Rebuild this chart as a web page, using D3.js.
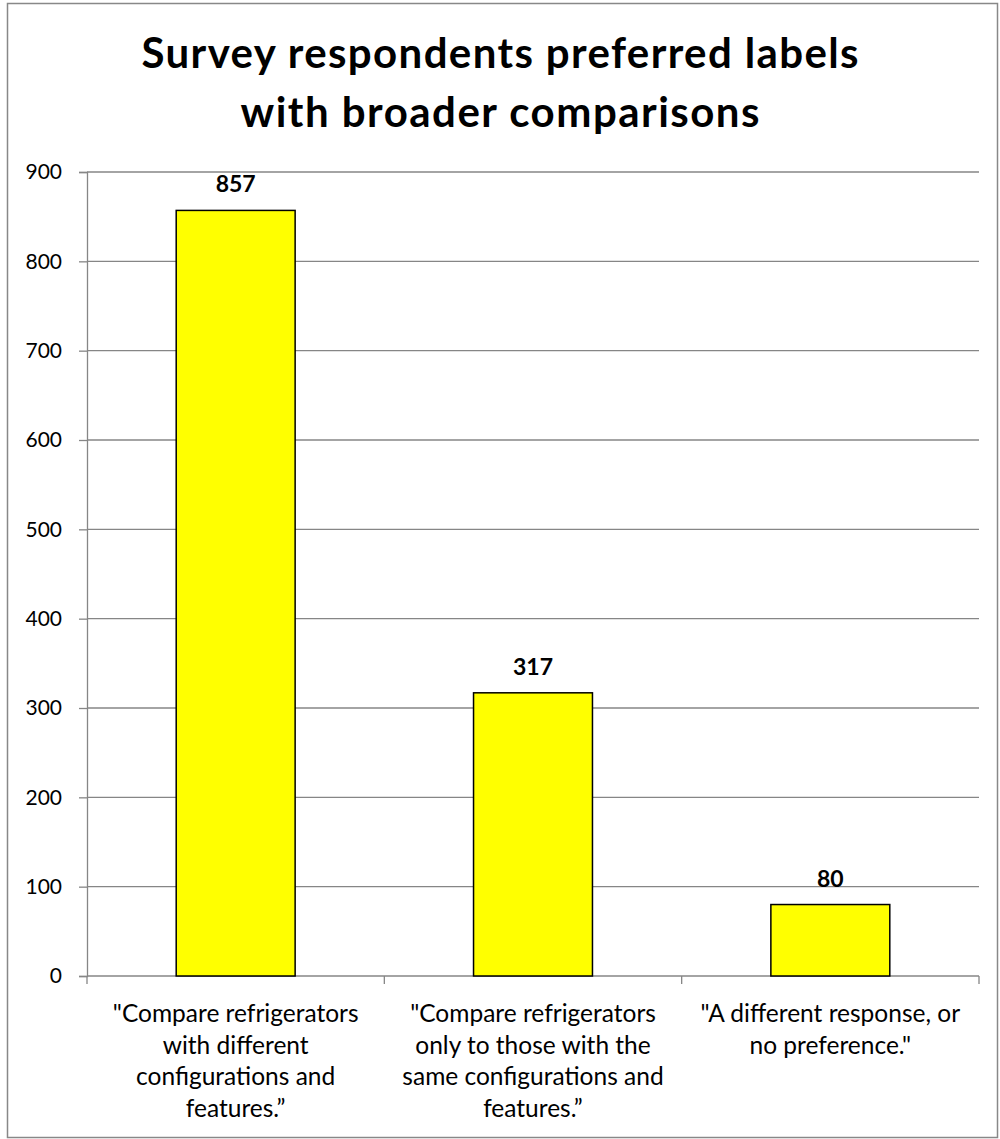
<!DOCTYPE html>
<html><head><meta charset="utf-8">
<script src="https://cdn.jsdelivr.net/npm/d3@7"></script>
<style>body{margin:0;background:#fff}svg{display:block}text{font-family:Lato,"Open Sans",sans-serif}</style>
</head><body>
<svg id="c" width="1000" height="1139"></svg>
<script>
const categories = [
  ['"Compare refrigerators','with different','configurations and','features.\u201D'],
  ['"Compare refrigerators','only to those with the','same configurations and','features.\u201D'],
  ['"A different response, or','no preference."']
];
const values = [857, 317, 80];
const yTicks = [0,100,200,300,400,500,600,700,800,900];
const titleLines = ['Survey respondents preferred labels','with broader comparisons'];

const svg = d3.select('#c');
svg.append('rect').attr('x',7.5).attr('y',3.5).attr('width',990).attr('height',1134)
  .attr('fill','#fff').attr('stroke','#888').attr('stroke-width',1.5);

const m = {l:87, r:979, t:172, b:976};
const x = d3.scaleBand().domain(d3.range(values.length)).range([m.l,m.r]).paddingInner(0.6).paddingOuter(0.3);
const xb = d3.scaleBand().domain(d3.range(values.length)).range([m.l,m.r]);
const y = d3.scaleLinear().domain([0,900]).range([m.b,m.t]);

// gridlines
svg.append('g').selectAll('line').data(yTicks.filter(d=>d>0)).join('line')
  .attr('x1',m.l).attr('x2',m.r).attr('y1',d=>y(d)).attr('y2',d=>y(d))
  .attr('stroke','#868686').attr('stroke-width',1.3);

// y axis
const ya = svg.append('g').attr('transform',`translate(${m.l},0)`)
  .call(d3.axisLeft(y).tickValues(yTicks).tickSize(8).tickPadding(17));
ya.select('.domain').attr('stroke','#868686').attr('stroke-width',1.3);
ya.selectAll('.tick line').attr('stroke','#868686').attr('stroke-width',1.3);
ya.selectAll('.tick text').attr('font-size',21).attr('fill','#000').style('font-family','Lato,sans-serif');

// x axis
svg.append('line').attr('x1',m.l).attr('x2',m.r).attr('y1',m.b).attr('y2',m.b).attr('stroke','#868686').attr('stroke-width',1.3);
svg.append('g').selectAll('line').data(d3.range(values.length+1)).join('line')
  .attr('x1',i=>i<values.length?xb(i):m.r).attr('x2',i=>i<values.length?xb(i):m.r)
  .attr('y1',m.b).attr('y2',m.b+8).attr('stroke','#868686').attr('stroke-width',1.3);

// bars
svg.append('g').selectAll('rect').data(values).join('rect')
  .attr('x',(d,i)=>x(i)).attr('width',x.bandwidth())
  .attr('y',d=>y(d)).attr('height',d=>y(0)-y(d))
  .attr('fill','#ffff00').attr('stroke','#000').attr('stroke-width',1.5);

// value labels
svg.append('g').selectAll('text').data(values).join('text')
  .attr('x',(d,i)=>x(i)+x.bandwidth()/2).attr('y',d=>y(d)-18)
  .attr('text-anchor','middle').attr('font-size',23).attr('font-weight','bold').text(d=>d);

// category labels
categories.forEach((lines,i)=>{
  const t = svg.append('text').attr('text-anchor','middle').attr('font-size',24.5).attr('fill','#000');
  lines.forEach((s,j)=>t.append('tspan').attr('x',xb(i)+xb.bandwidth()/2).attr('y',1022+j*31.5).text(s));
});

// title
const titleWidths = [717, 519];
svg.append('g').selectAll('text').data(titleLines).join('text')
  .attr('x',500).attr('y',(d,i)=>68+i*59).attr('text-anchor','middle')
  .attr('font-size',42).attr('font-weight','bold')
  .attr('textLength',(d,i)=>titleWidths[i]).attr('lengthAdjust','spacing').text(d=>d);
</script>
</body></html>
